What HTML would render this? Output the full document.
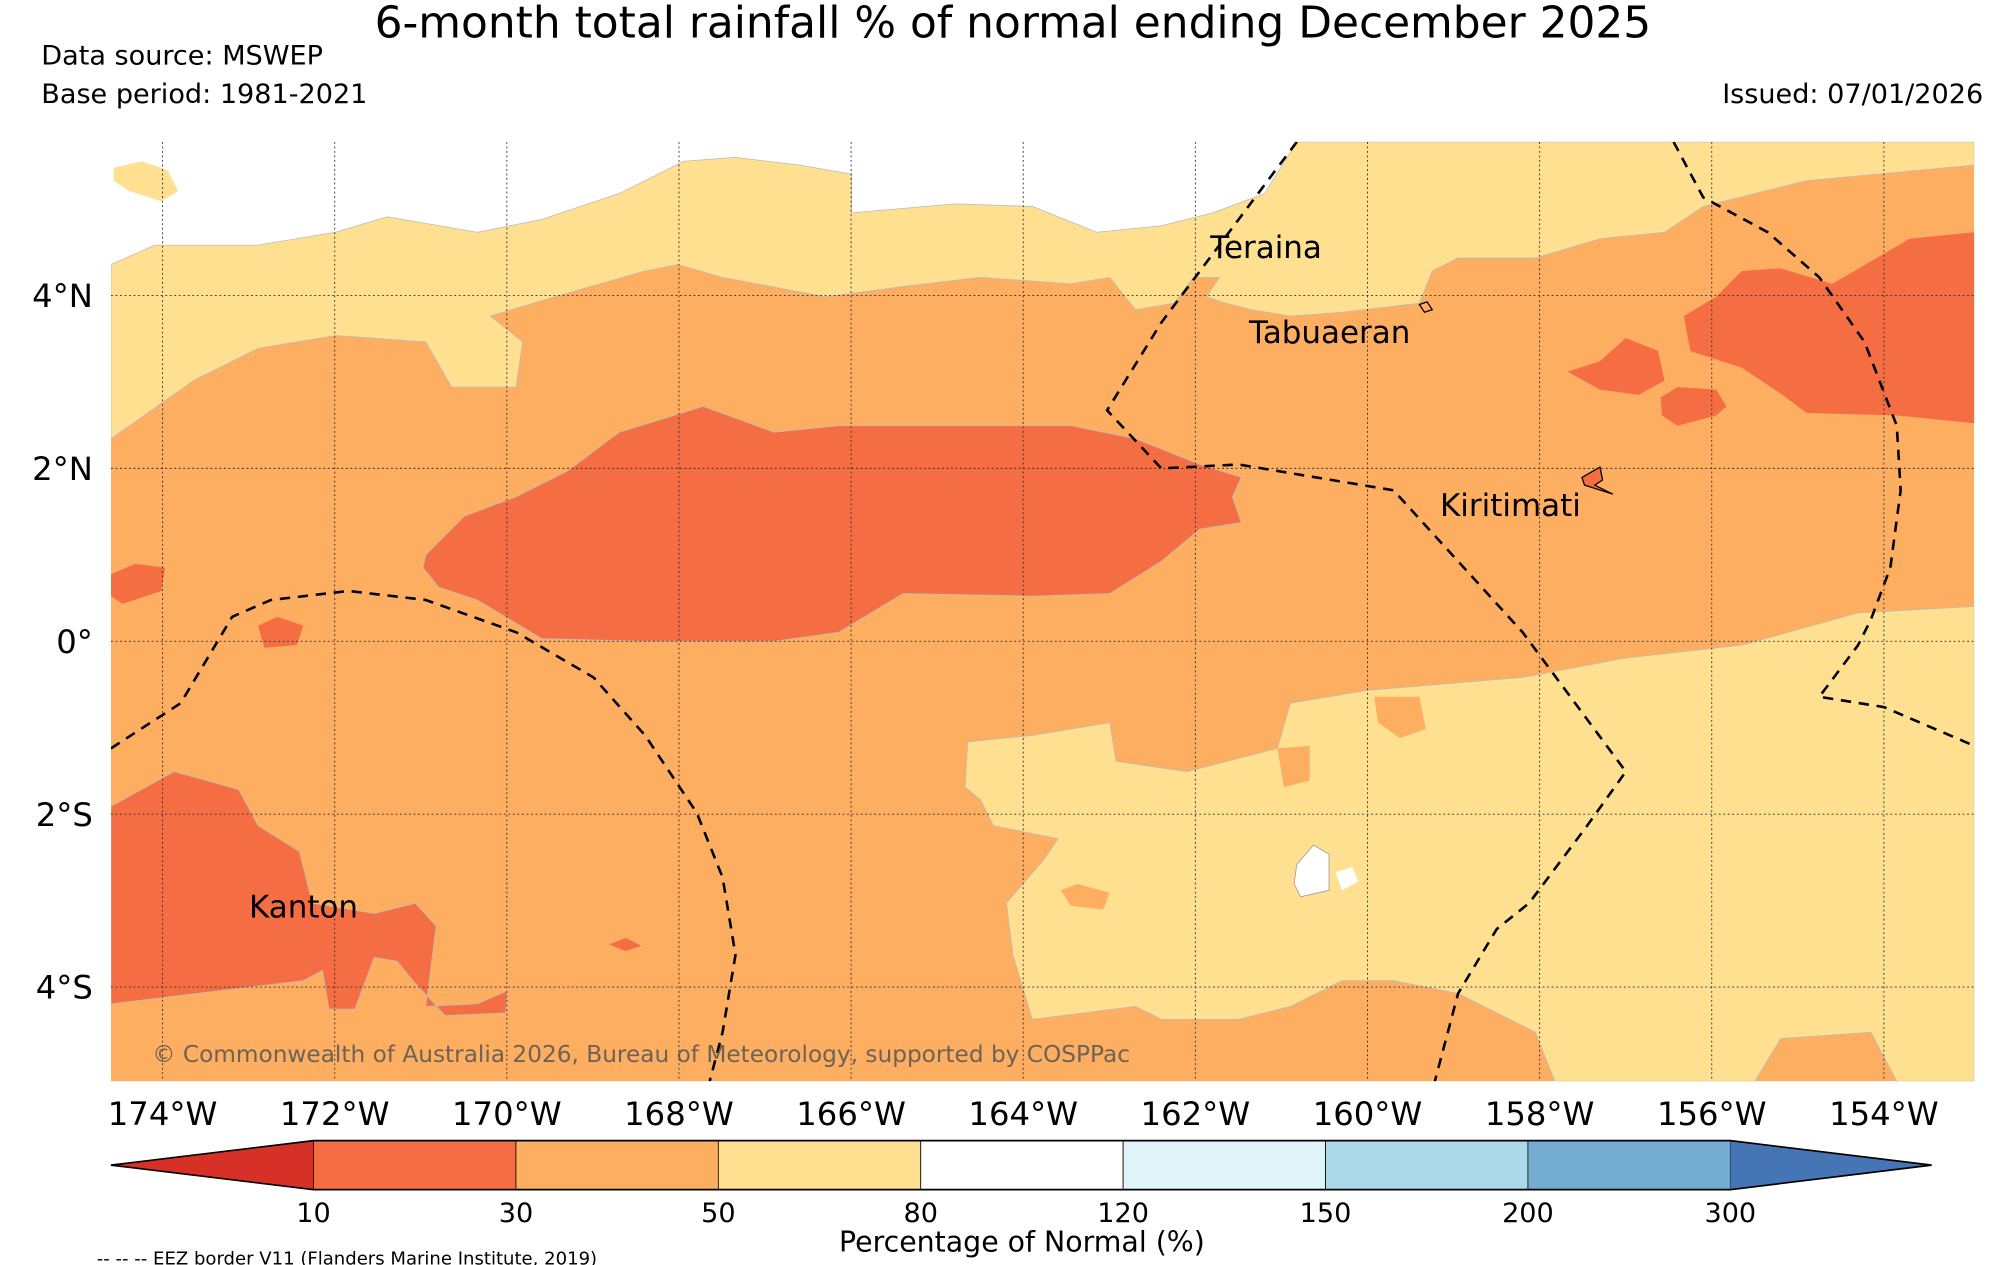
<!DOCTYPE html>
<html><head><meta charset="utf-8"><style>
html,body{margin:0;padding:0;background:#fff;}
svg{display:block;font-family:"DejaVu Sans","Liberation Sans",sans-serif;}
</style></head><body>
<svg id="fig" width="2000" height="1265" viewBox="0 0 1550 980.4" preserveAspectRatio="none" xmlns="http://www.w3.org/2000/svg">
<text x="785" y="29" font-size="34" text-anchor="middle">6-month total rainfall % of normal ending December 2025</text>
<text x="32" y="50" font-size="21">Data source: MSWEP</text>
<text x="32" y="80" font-size="21">Base period: 1981-2021</text>
<text x="1537" y="80" font-size="21" text-anchor="end">Issued: 07/01/2026</text>
<defs><clipPath id="mapclip"><rect x="86" y="110" width="1444" height="728"/></clipPath></defs>
<g id="map" clip-path="url(#mapclip)">
<rect x="86" y="110" width="1444" height="728" fill="#fdae61"/>
<polygon fill="#ffffff" points="86,110 1005,110 980,150 940,165 900,175 850,180 800,160 740,158 660,165 660,135 620,128 570,122 530,125 480,150 420,170 370,180 300,168 260,180 200,190 120,190 86,205"/>
<polygon fill="#fee090" stroke="#bbb" stroke-width="0.6" points="86,205 120,190 200,190 260,180 300,168 370,180 420,170 480,150 530,125 570,122 620,128 660,135 660,165 740,158 800,160 850,180 900,175 940,165 980,150 1005,110 1530,110 1530,128 1400,140 1320,160 1290,180 1240,185 1190,200 1130,200 1110,210 1100,235 1040,242 1000,245 970,240 950,235 935,230 945,215 925,215 910,235 880,240 860,215 830,220 760,215 700,222 640,230 560,215 525,205 500,210 430,230 380,245 405,265 400,300 350,300 330,265 260,260 200,270 150,295 86,340"/>
<polygon fill="#fee090" points="88,130 110,125 130,132 138,148 125,156 100,148 88,140"/>
<polygon fill="#fee090" stroke="#bbb" stroke-width="0.6" points="750,575 800,570 860,560 865,590 920,598 990,580 1000,545 1060,535 1180,525 1260,510 1350,500 1440,475 1530,470 1530,838 1470,838 1450,800 1380,805 1360,838 1205,838 1190,800 1130,770 1080,760 1040,760 1000,780 960,790 900,790 880,780 800,790 785,740 780,700 810,665 820,650 770,640 760,620 748,610"/>
<polygon fill="#fdae61" points="1065,540 1100,540 1105,565 1085,572 1068,560"/>
<polygon fill="#fdae61" points="990,580 1015,578 1015,605 995,610"/>
<polygon fill="#fdae61" points="822,690 835,685 860,692 855,705 830,702"/>
<polygon fill="#ffffff" stroke="#999" stroke-width="0.6" points="1005,670 1018,655 1030,662 1030,690 1008,695 1003,685"/>
<polygon fill="#ffffff" points="1035,676 1048,672 1053,683 1040,690"/>
<polygon fill="#f46d43" stroke="#bbb" stroke-width="0.6" points="330,430 360,400 400,385 440,365 480,335 545,315 600,335 650,330 700,330 760,330 830,330 880,340 930,360 962,370 955,385 962,405 930,410 900,435 860,460 800,462 700,460 650,490 600,497 500,497 420,495 395,480 370,465 340,455 328,440"/>
<polygon fill="#f46d43" points="86,445 105,437 128,440 125,458 95,468 86,462"/>
<polygon fill="#f46d43" points="200,485 215,478 235,485 230,500 205,502"/>
<polygon fill="#f46d43" points="1330,230 1350,210 1380,208 1420,220 1480,185 1530,180 1530,328 1470,322 1400,320 1380,305 1350,285 1310,272 1305,245"/>
<polygon fill="#f46d43" points="1215,288 1240,280 1260,262 1285,272 1290,295 1270,306 1240,302"/>
<polygon fill="#f46d43" points="1287,308 1300,300 1330,302 1338,315 1330,322 1300,330 1288,322"/>
<polygon fill="#f46d43" stroke="#bbb" stroke-width="0.6" points="86,625 135,598 160,605 185,612 200,640 232,660 242,700 290,708 322,700 338,718 330,780 370,778 393,768 392,785 345,787 320,760 308,745 290,742 275,782 255,782 250,752 235,760 86,778"/>
<polygon fill="#f46d43" points="472,732 485,727 497,733 485,737"/>
<g id="grid" stroke="#333" stroke-width="0.7" stroke-dasharray="1.5,2"></g>
<g fill="none" stroke="#000" stroke-width="2" stroke-dasharray="8,6">
<polyline points="86,580 140,545 180,478 210,465 270,458 330,465 400,490 460,525 500,570 540,630 560,680 570,740 560,800 550,838"/>
<polyline points="1005,110 960,170 900,250 858,318 900,363 960,360 1080,380 1180,490 1260,598 1230,640 1185,700 1160,720 1130,770 1112,838"/>
<polyline points="1297,110 1320,153 1370,180 1410,215 1445,265 1470,330 1473,380 1465,440 1450,480 1440,500 1410,540 1460,548 1530,578"/>
</g>
<path d="M1226,370 L1240,362 L1242,372 L1236,376 L1250,383 L1228,376 Z" fill="#f46d43" stroke="#000" stroke-width="1"/>
<path d="M1100,236 L1106,234 L1110,240 L1104,242 Z" fill="none" stroke="#000" stroke-width="1"/>
</g>
<g font-size="24">
<text x="938" y="200">Teraina</text>
<text x="968" y="266">Tabuaeran</text>
<text x="1116" y="400">Kiritimati</text>
<text x="193" y="711">Kanton</text>
</g>
<text x="118" y="823" font-size="18" fill="#555" fill-opacity="0.85">© Commonwealth of Australia 2026, Bureau of Meteorology, supported by COSPPac</text>
<g id="xticks" font-size="25" text-anchor="middle"></g>
<g id="yticks" font-size="25" text-anchor="end"></g>
<g id="cbar"></g>
<text x="792" y="970" font-size="22" text-anchor="middle">Percentage of Normal (%)</text>
<text x="75" y="980" font-size="14">-- -- -- EEZ border V11 (Flanders Marine Institute, 2019)</text>
</svg>
<script>
const lonTicks = [174, 172, 170, 168, 166, 164, 162, 160, 158, 156, 154];
const latTicks = [4, 2, 0, -2, -4];
const cbarBounds = [10, 30, 50, 80, 120, 150, 200, 300];
const cbarColors = ["#f46d43", "#fdae61", "#fee090", "#ffffff", "#e0f3f8", "#abd9e9", "#74add1"];
const cbarUnder = "#d73027";
const cbarOver = "#4575b4";

const NS = "http://www.w3.org/2000/svg";
function xOfLon(lonW) { return 126 + (174 - lonW) * 66.7; }
function yOfLat(lat) { return 497 - lat * 67; }
function mk(tag, attrs, parent) { const e = document.createElementNS(NS, tag); for (const k in attrs) e.setAttribute(k, attrs[k]); parent.appendChild(e); return e; }

const grid = document.getElementById('grid');
const xt = document.getElementById('xticks');
const yt = document.getElementById('yticks');
lonTicks.forEach(l => {
  const x = xOfLon(l);
  const ln = mk('line', {x1: x, x2: x, y1: 110, y2: 838}, grid);
  
  
  const t = mk('text', {x: x, y: 872}, xt);
  t.textContent = l + '°W';
  
  
});
latTicks.forEach(l => {
  const y = yOfLat(l);
  const ln = mk('line', {x1: 86, x2: 1530, y1: y, y2: y}, grid);
  
  
  const t = mk('text', {x: 72, y: y + 9}, yt);
  t.textContent = l === 0 ? '0°' : Math.abs(l) + '°' + (l > 0 ? 'N' : 'S');
  
  
});

const cb = document.getElementById('cbar');
const cx0 = 243, cx1 = 1341, cy0 = 884, cy1 = 922, tipL = 86, tipR = 1497;
const n = cbarColors.length;
const segW = (cx1 - cx0) / n;
const under = mk('polygon', {points: `${cx0},${cy0} ${tipL},${(cy0+cy1)/2} ${cx0},${cy1}`, fill: cbarUnder}, cb);


cbarColors.forEach((c, i) => {
  const r = mk('rect', {x: cx0 + i * segW, y: cy0, width: segW, height: cy1 - cy0, fill: c, stroke: '#000', 'stroke-width': 0.6}, cb);
  
  
});
const over = mk('polygon', {points: `${cx1},${cy0} ${tipR},${(cy0+cy1)/2} ${cx1},${cy1}`, fill: cbarOver}, cb);


const outline = mk('polygon', {points: `${tipL},${(cy0+cy1)/2} ${cx0},${cy0} ${cx1},${cy0} ${tipR},${(cy0+cy1)/2} ${cx1},${cy1} ${cx0},${cy1}`, fill: 'none', stroke: '#000', 'stroke-width': 1.3}, cb);


cbarBounds.forEach((b, i) => {
  const t = mk('text', {x: cx0 + i * segW, y: 947, 'font-size': 21, 'text-anchor': 'middle'}, cb);
  t.textContent = b;
  
  
});
</script>
</body></html>
